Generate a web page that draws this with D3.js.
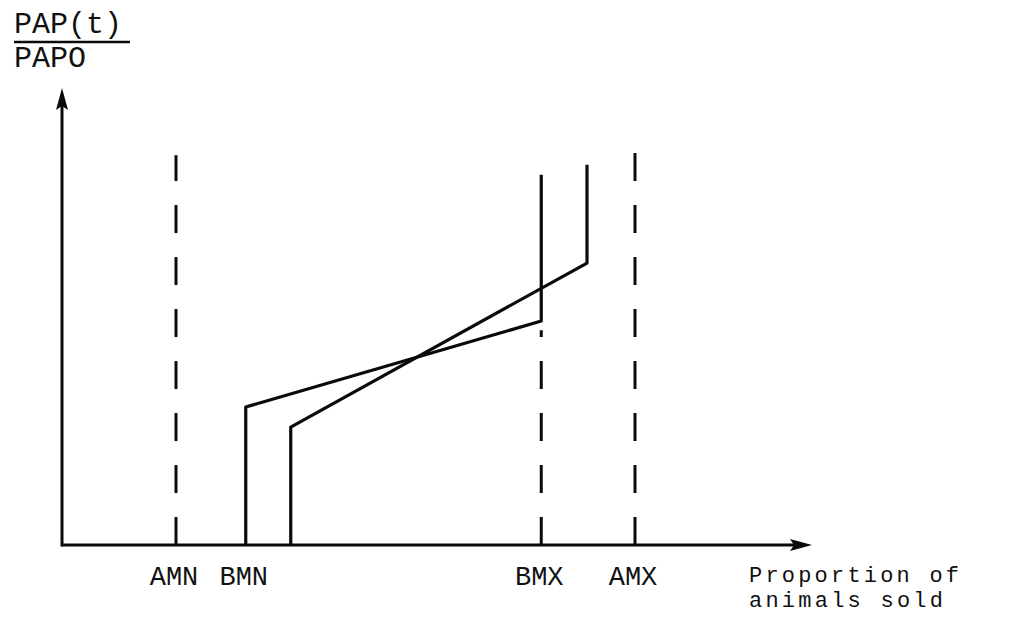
<!DOCTYPE html>
<html>
<head>
<meta charset="utf-8">
<script src="https://cdn.jsdelivr.net/npm/d3@7"></script>
<style>
  html, body { margin: 0; padding: 0; background: #fff; }
  svg { display: block; }
  text { font-family: "Liberation Mono", "Courier New", monospace; fill: #111; }
</style>
</head>
<body>
<svg id="chart" width="1025" height="618"></svg>
<script>
// ---- data (abstract units: x = proportion of animals sold, y = PAP(t)/PAPO) ----
const thresholdNames = ["AMN", "BMN", "BMX", "AMX"];
const thresholdX     = [15.2, 24.5, 63.9, 76.4];
// dashed guide lines: [x, yTop]
const dashedX   = [15.2, 63.9, 76.4];
const dashedTop = [85.3, 47.0, 86.4];
// series A (flatter curve, B limits)
const seriesAx = [24.5, 24.5, 63.9, 63.9];
const seriesAy = [0, 30.2, 49.0, 81.0];
// series B (steeper curve)
const seriesBx = [30.5, 30.5, 70.0, 70.0];
const seriesBy = [0, 25.8, 61.7, 83.2];
const yTitleTop = "PAP(t)";
const yTitleBottom = "PAPO";
const xTitleLines = ["Proportion of", "animals sold"];

const svg = d3.select("#chart");
const x = d3.scaleLinear().domain([0, 100]).range([62, 812]);
const y = d3.scaleLinear().domain([0, 100]).range([545, 88]);
const ink = "#0a0a0a";

// axes
svg.append("line").attr("x1", x(0)).attr("y1", y(0)).attr("x2", x(100) - 14).attr("y2", y(0))
  .attr("stroke", ink).attr("stroke-width", 3);
svg.append("line").attr("x1", x(0)).attr("y1", y(0) + 1.5).attr("x2", x(0)).attr("y2", y(100) + 14)
  .attr("stroke", ink).attr("stroke-width", 3);
// arrowheads
svg.append("path")
  .attr("d", `M${x(100)},${y(0)} L${x(100) - 22},${y(0) - 6} L${x(100) - 18},${y(0)} L${x(100) - 22},${y(0) + 6} Z`)
  .attr("fill", ink);
svg.append("path")
  .attr("d", `M${x(0)},${y(100)} L${x(0) - 6},${y(100) + 22} L${x(0)},${y(100) + 18} L${x(0) + 6},${y(100) + 22} Z`)
  .attr("fill", ink);

// dashed guide lines
svg.append("g").selectAll("line").data(dashedX).join("line")
  .attr("x1", d => x(d)).attr("x2", d => x(d))
  .attr("y1", y(0)).attr("y2", (d, i) => y(dashedTop[i]))
  .attr("stroke", ink).attr("stroke-width", 3)
  .attr("stroke-dasharray", "28,24");

// series
const line = d3.line().x(d => x(d[0])).y(d => y(d[1]));
[[seriesAx, seriesAy], [seriesBx, seriesBy]].forEach(([xs, ys]) => {
  svg.append("path")
    .attr("d", line(xs.map((v, i) => [v, ys[i]])))
    .attr("fill", "none").attr("stroke", ink).attr("stroke-width", 3.2)
    .attr("stroke-linejoin", "round");
});

// threshold labels
svg.append("g").selectAll("text").data(thresholdNames).join("text")
  .attr("x", (d, i) => x(thresholdX[i]) - 2)
  .attr("y", 585)
  .attr("text-anchor", "middle")
  .attr("font-size", 27)
  .text(d => d);

// x-axis title
svg.append("g").selectAll("text").data(xTitleLines).join("text")
  .attr("x", 749)
  .attr("y", (d, i) => 582 + i * 25)
  .attr("font-size", 22)
  .attr("textLength", (d, i) => i === 0 ? 210 : 194)
  .attr("lengthAdjust", "spacing")
  .attr("xml:space", "preserve")
  .text(d => d);

// y-axis title (fraction)
svg.append("text").attr("x", 14).attr("y", 33).attr("font-size", 30).text(yTitleTop);
svg.append("line").attr("x1", 14).attr("x2", 130).attr("y1", 42).attr("y2", 42)
  .attr("stroke", ink).attr("stroke-width", 2.5);
svg.append("text").attr("x", 14).attr("y", 67).attr("font-size", 30).text(yTitleBottom);
</script>
</body>
</html>
